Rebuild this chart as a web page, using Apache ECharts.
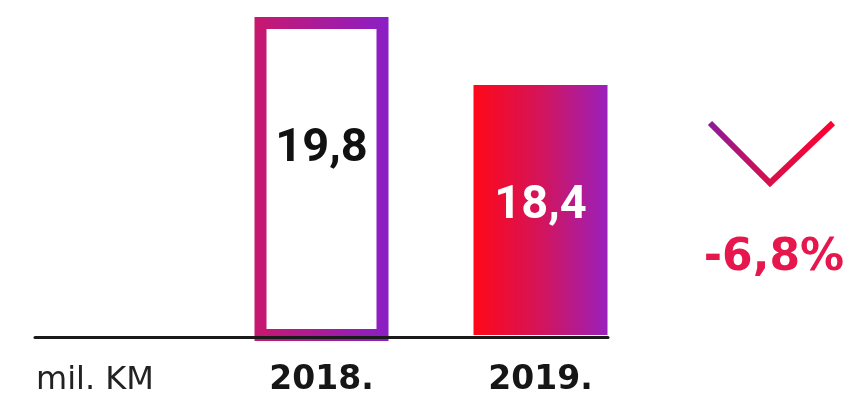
<!DOCTYPE html>
<html>
<head>
<meta charset="utf-8">
<script src="https://cdn.jsdelivr.net/npm/echarts@6/dist/echarts.min.js"></script>
<style>
  html, body { margin: 0; padding: 0; background: #ffffff; }
  #chart { width: 851px; height: 399px; }
</style>
</head>
<body>
<div id="chart"></div>
<script>
// ---- data ----
const categories = ['2018.', '2019.'];
const values = [19.8, 18.4];
const unitLabel = 'mil. KM';
const changeLabel = '-6,8%';

const fmt = v => String(v).replace('.', ',');

const chart = echarts.init(document.getElementById('chart'), null, { renderer: 'canvas' });
const G = echarts.graphic.LinearGradient;

const outlineGrad = new G(0, 0, 1, 0, [
  { offset: 0, color: '#c8186e' },
  { offset: 1, color: '#8a1fc6' }
]);
const fillGrad = new G(0, 0, 1, 0, [
  { offset: 0, color: '#ff0818' },
  { offset: 0.5, color: '#d4145a' },
  { offset: 1, color: '#9a20bc' }
]);

const dataItems = [
  {
    value: values[0],
    itemStyle: { color: '#ffffff', borderColor: outlineGrad, borderWidth: 12 },
    label: { color: '#111111', position: 'insideTop', distance: 109 }
  },
  {
    value: values[1],
    itemStyle: { color: fillGrad, borderWidth: 0 },
    label: { color: '#ffffff', position: 'insideTop', distance: 98 }
  }
];

const option = {
  animation: false,
  backgroundColor: '#ffffff',
  grid: [
    { left: 212, right: 201, top: 7.3, bottom: 64 },
    { left: 35, right: 243, top: 13, bottom: 62 }
  ],
  xAxis: [
    {
      type: 'category', gridIndex: 0, data: categories,
      axisLine: { show: false }, axisTick: { show: false },
      axisLabel: {
        margin: 29,
        fontFamily: 'DejaVu Sans', fontWeight: 'bold', fontSize: 33, color: '#161616'
      }
    },
    {
      type: 'category', gridIndex: 1, data: [''], z: 10,
      axisLine: { show: true, lineStyle: { color: '#1a1a1a', width: 3 } },
      axisTick: { show: false }, axisLabel: { show: false }
    }
  ],
  yAxis: [
    { type: 'value', gridIndex: 0, min: 13.25, max: 20, show: false, splitLine: { show: false } },
    { type: 'value', gridIndex: 1, show: false, splitLine: { show: false } }
  ],
  series: [
    {
      type: 'bar',
      xAxisIndex: 0, yAxisIndex: 0,
      barWidth: 134,
      data: dataItems,
      label: {
        show: true,
        fontFamily: 'Roboto', fontWeight: 'bold', fontSize: 47,
        formatter: p => fmt(p.value)
      }
    }
  ],
  graphic: [
    {
      type: 'text',
      left: 36, top: 365,
      style: { text: unitLabel, fontFamily: 'DejaVu Sans', fontSize: 32, fill: '#222222' }
    },
    {
      type: 'polyline',
      shape: { points: [[710, 123], [770, 183], [833, 123]] },
      style: {
        fill: null,
        lineWidth: 6,
        stroke: new G(0, 0, 1, 0, [
          { offset: 0, color: '#8a1a9e' },
          { offset: 0.5, color: '#d8104a' },
          { offset: 1, color: '#ff0030' }
        ])
      }
    },
    {
      type: 'text',
      x: 774, y: 259,
      style: {
        text: changeLabel, fontFamily: 'DejaVu Sans', fontWeight: 'bold', fontSize: 44,
        fill: '#e5174d', align: 'center', verticalAlign: 'middle'
      }
    }
  ]
};
chart.setOption(option);
</script>
</body>
</html>
